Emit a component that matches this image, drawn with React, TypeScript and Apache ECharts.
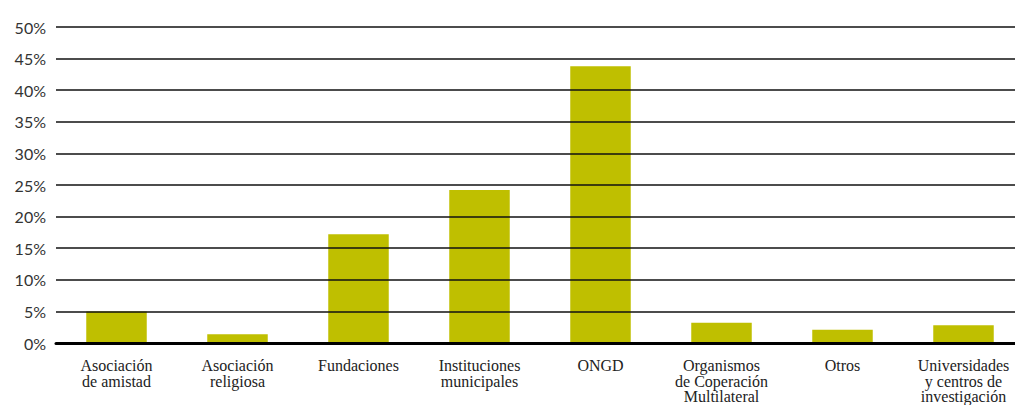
import React, { useEffect, useRef } from "react";
import * as echarts from "echarts";

const categories = [
  "Asociación\nde amistad",
  "Asociación\nreligiosa",
  "Fundaciones",
  "Instituciones\nmunicipales",
  "ONGD",
  "Organismos\nde Coperación\nMultilateral",
  "Otros",
  "Universidades\ny centros de\ninvestigación",
];
const values = [5.0, 1.4, 17.2, 24.2, 43.8, 3.2, 2.1, 2.8];

export default function App() {
  const ref = useRef<HTMLDivElement>(null);
  useEffect(() => {
    if (!ref.current) return;
    const chart = echarts.init(ref.current, undefined, { renderer: "svg" });
    chart.setOption({
      animation: false,
      grid: {
        left: 56,
        top: 27,
        width: 968,
        height: 316,
        containLabel: false,
        outerBoundsMode: "none",
      },
      xAxis: {
        type: "category",
        data: categories,
        axisTick: { show: false },
        axisLine: { show: true, lineStyle: { color: "#000", width: 3 } },
        axisLabel: {
          interval: 0,
          margin: 15,
          fontFamily: "Liberation Serif",
          fontSize: 16,
          lineHeight: 15.5,
          color: "#222",
        },
        z: 4,
      },
      yAxis: {
        type: "value",
        min: 0,
        max: 50,
        interval: 5,
        z: 3,
        axisLine: { show: false },
        axisTick: { show: false },
        axisLabel: {
          formatter: "{value}%",
          margin: 10,
          fontFamily: "Lato",
          fontSize: 16,
          color: "#333",
        },
        splitLine: { show: true, lineStyle: { color: "#111", width: 1.5 } },
      },
      series: [
        {
          type: "bar",
          data: values,
          barWidth: "50%",
          itemStyle: { color: "#BFBF00" },
        },
      ],
    });
    return () => chart.dispose();
  }, []);
  return (
    <div
      ref={ref}
      style={{ position: "absolute", left: 0, top: 0, width: 1015, height: 405 }}
    />
  );
}
